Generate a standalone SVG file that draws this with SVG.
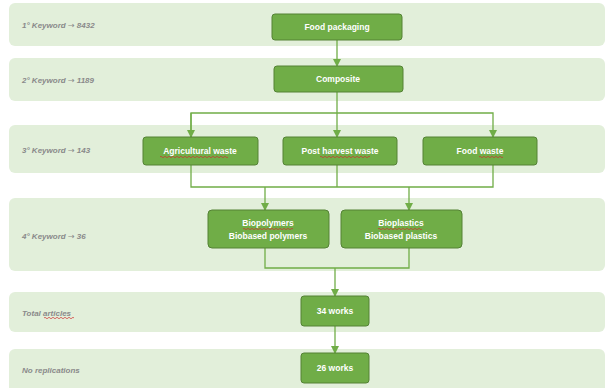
<svg xmlns="http://www.w3.org/2000/svg" width="606" height="388" viewBox="0 0 606 388">
<style>
.band{fill:#e2efda}
.lbl{font-family:"Liberation Sans",Arial,sans-serif;font-size:8px;font-style:italic;font-weight:bold;fill:#8a8a8a}
.ar{font-family:"DejaVu Sans",sans-serif;font-style:normal;font-weight:normal}
.node rect{fill:#70ad47;stroke:#548235;stroke-width:1}
.node text{font-family:"Liberation Sans",Arial,sans-serif;font-size:8.5px;font-weight:bold;fill:#ffffff;text-anchor:middle}
.conn path{fill:none;stroke:#70ad47;stroke-width:1.3}
.sq{fill:none;stroke:#d03030;stroke-width:0.7}
</style>
<defs>
<marker id="ah" markerWidth="8" markerHeight="8" refX="7" refY="4" orient="auto" markerUnits="userSpaceOnUse">
<path d="M0,0 L8,4 L0,8 Z" fill="#70ad47"/>
</marker>
</defs>
<g id="bands">
<rect class="band" x="9" y="3" width="596" height="43" rx="6"/>
<rect class="band" x="9" y="58" width="596" height="43" rx="6"/>
<rect class="band" x="9" y="125" width="596" height="48" rx="6"/>
<rect class="band" x="9" y="198" width="596" height="73" rx="6"/>
<rect class="band" x="9" y="292" width="596" height="40" rx="6"/>
<rect class="band" x="9" y="349" width="596" height="45" rx="6"/>
<text class="lbl" x="22" y="28">1° Keyword <tspan class="ar">→</tspan> 8432</text>
<text class="lbl" x="22" y="83">2° Keyword <tspan class="ar">→</tspan> 1189</text>
<text class="lbl" x="22" y="153">3° Keyword <tspan class="ar">→</tspan> 143</text>
<text class="lbl" x="22" y="239">4° Keyword <tspan class="ar">→</tspan> 36</text>
<text class="lbl" x="22" y="316">Total articles</text>
<text class="lbl" x="22" y="373">No replications</text>
</g>
<g id="connectors" class="conn">
<path d="M337,40 V66" marker-end="url(#ah)"/>
<path d="M337,92 V137" marker-end="url(#ah)"/>
<path d="M191,137 V113 H493 V137" marker-end="url(#ah)"/>
<path d="M191,113 V137" marker-end="url(#ah)"/>
<path d="M191,165 V187 H493 V165"/>
<path d="M337,165 V187"/>
<path d="M265,187 V210" marker-end="url(#ah)"/>
<path d="M409,187 V210" marker-end="url(#ah)"/>
<path d="M265,248 V268 H409 V248"/>
<path d="M335,268 V296" marker-end="url(#ah)"/>
<path d="M335,326 V353" marker-end="url(#ah)"/>
</g>
<g id="n-food-packaging" class="node"><rect x="272" y="14" width="130" height="26" rx="3"/><text x="337" y="30">Food packaging</text></g>
<g id="n-composite" class="node"><rect x="274" y="66" width="129" height="26" rx="3"/><text x="338" y="82">Composite</text></g>
<g id="n-agri" class="node"><rect x="143" y="137" width="115" height="28" rx="3"/><text x="200" y="154">Agricultural waste</text></g>
<g id="n-post" class="node"><rect x="283" y="137" width="114" height="28" rx="3"/><text x="340" y="154">Post harvest waste</text></g>
<g id="n-foodwaste" class="node"><rect x="423" y="137" width="114" height="28" rx="3"/><text x="480" y="154">Food waste</text></g>
<g id="n-biopolymers" class="node"><rect x="208" y="210" width="121" height="38" rx="4"/><text x="268" y="226">Biopolymers</text><text x="268" y="239">Biobased polymers</text></g>
<g id="n-bioplastics" class="node"><rect x="341" y="210" width="121" height="38" rx="4"/><text x="401" y="226">Bioplastics</text><text x="401" y="239">Biobased plastics</text></g>
<g id="n-34" class="node"><rect x="301" y="296" width="68" height="30" rx="3"/><text x="335" y="314">34 works</text></g>
<g id="n-26" class="node"><rect x="301" y="353" width="68" height="30" rx="3"/><text x="335" y="371">26 works</text></g>
<g id="squiggles">
<path class="sq" d="M160,157 q1,-1.5 2,0 t2,0 t2,0 t2,0 t2,0 t2,0 t2,0 t2,0 t2,0 t2,0 t2,0 t2,0 t2,0 t2,0 t2,0 t2,0 t2,0 t2,0 t2,0 t2,0 t2,0 t2,0 t2,0 t2,0 t2,0 t2,0 t2,0 t2,0 t2,0 t2,0 t2,0 t2,0 t2,0 t2,0"/>
<path class="sq" d="M320,157 q1,-1.5 2,0 t2,0 t2,0 t2,0 t2,0 t2,0 t2,0 t2,0 t2,0 t2,0 t2,0 t2,0 t2,0 t2,0 t2,0 t2,0 t2,0 t2,0 t2,0 t2,0 t2,0 t2,0 t2,0 t2,0 t2,0"/>
<path class="sq" d="M479,157 q1,-1.5 2,0 t2,0 t2,0 t2,0 t2,0 t2,0 t2,0 t2,0 t2,0 t2,0 t2,0 t2,0"/>
<path class="sq" d="M243,229 q1,-1.5 2,0 t2,0 t2,0 t2,0 t2,0 t2,0 t2,0 t2,0 t2,0 t2,0 t2,0 t2,0 t2,0 t2,0 t2,0 t2,0 t2,0 t2,0 t2,0 t2,0 t2,0 t2,0 t2,0 t2,0 t2,0"/>
<path class="sq" d="M378,229 q1,-1.5 2,0 t2,0 t2,0 t2,0 t2,0 t2,0 t2,0 t2,0 t2,0 t2,0 t2,0 t2,0 t2,0 t2,0 t2,0 t2,0 t2,0 t2,0 t2,0 t2,0 t2,0 t2,0"/>
<path class="sq" d="M44,318 q1,-1.5 2,0 t2,0 t2,0 t2,0 t2,0 t2,0 t2,0 t2,0 t2,0 t2,0 t2,0 t2,0 t2,0 t2,0 t2,0"/>
</g>
</svg>
